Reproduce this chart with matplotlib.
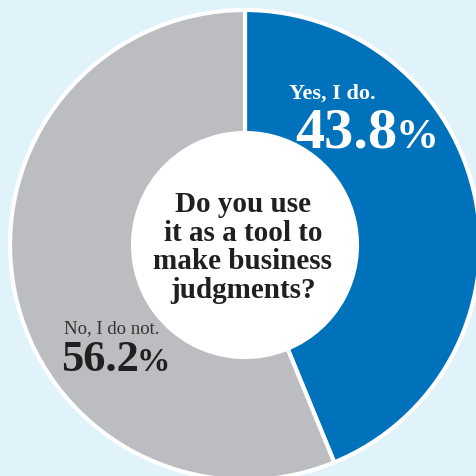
import matplotlib.pyplot as plt
from matplotlib.patches import Circle

# survey answers
answers = ["Yes, I do.", "No, I do not."]
shares = [43.8, 56.2]
question = ["Do you use", "it as a tool to", "make business", "judgments?"]

colors = ["#0071bb", "#bcbdc1"]
bg = "#e0f2fa"
ink = "#231f20"
serif = ["Liberation Serif", "DejaVu Serif"]

fig = plt.figure(figsize=(4.76, 4.77), dpi=100, facecolor=bg)
ax = fig.add_axes([0, 0, 1, 1])

cx, cy = 245, 231
r_out, r_in = 235, 112
ax.pie(shares, colors=colors, startangle=90, counterclock=False,
       center=(cx, cy), radius=r_out, frame=True,
       wedgeprops=dict(width=r_out - r_in, edgecolor="white", linewidth=3))
ax.add_patch(Circle((cx, cy), r_in + 1, facecolor="white", edgecolor="none", zorder=3))
ax.set_xlim(0, 476)
ax.set_ylim(0, 477)
ax.set_aspect("equal")
ax.axis("off")

# centre question, one line at a time
for i, line in enumerate(question):
    ax.text(cx - 2, cy + 34 - 28.7 * i, line, ha="center", va="baseline",
            family=serif, weight="bold", fontsize=21, color=ink, zorder=4)

# Yes label
ax.text(332, 378, answers[0], ha="center", va="baseline", family=serif,
        weight="bold", fontsize=16, color="white", zorder=4)
ax.text(398, 329, f"{shares[0]:.1f}", ha="right", va="baseline", family=serif,
        weight="bold", fontsize=42, color="white", zorder=4)
ax.text(396, 329, "%", ha="left", va="baseline", family=serif,
        weight="bold", fontsize=31, color="white", zorder=4)

# No label
ax.text(112, 144, answers[1], ha="center", va="baseline", family=serif,
        fontsize=13.5, color="#333333", zorder=4)
ax.text(139, 106, f"{shares[1]:.1f}", ha="right", va="baseline", family=serif,
        weight="bold", fontsize=32, color=ink, zorder=4)
ax.text(137, 106, "%", ha="left", va="baseline", family=serif,
        weight="bold", fontsize=24, color=ink, zorder=4)

fig.savefig("out.png", dpi=100, facecolor=bg)
